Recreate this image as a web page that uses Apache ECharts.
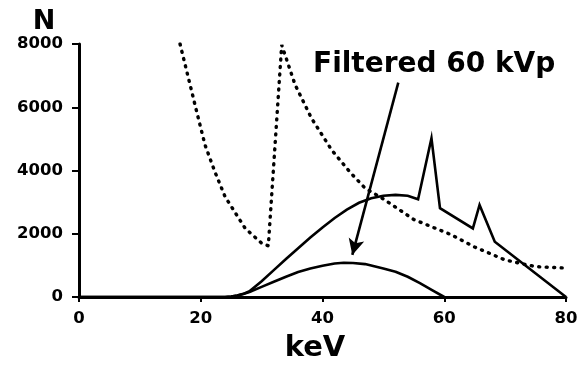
<!DOCTYPE html>
<html>
<head>
<meta charset="utf-8">
<script src="https://cdn.jsdelivr.net/npm/echarts@6/dist/echarts.min.js"></script>
<style>html,body{margin:0;padding:0;background:#fff;}#c{width:582px;height:365px;}</style>
</head>
<body>
<div id="c"></div>
<script>
// X ticks / Y ticks
const xTicks = [0, 20, 40, 60, 80];
const yTicks = [0, 2000, 4000, 6000, 8000];

// Unfiltered 80 kVp spectrum (dotted)
const keVD = [16.6, 19.05, 20.7, 22.3, 24, 27.3, 30, 31.1, 33.3, 35.5, 38.2, 41.5, 44.5, 47, 50, 55, 61, 65, 70, 75, 79.5];
const unfiltered = [8000, 6080, 4810, 3970, 3170, 2170, 1700, 1620, 7970, 6710, 5650, 4650, 3950, 3440, 3100, 2450, 1980, 1580, 1170, 960, 920];

// Tube spectrum 80 kVp (solid, with characteristic lines)
const keV1 = [0, 24, 25, 26, 27, 28, 30, 32, 34, 36, 38, 40, 42, 44, 46, 48, 50, 52, 54, 55.7, 57.9, 59.3, 64.7, 65.8, 68.3, 80];
const tube80 = [0, 0, 15, 45, 100, 180, 500, 850, 1200, 1540, 1880, 2200, 2500, 2760, 2980, 3120, 3200, 3230, 3200, 3090, 5020, 2810, 2170, 2910, 1750, 0];

// Filtered 60 kVp (solid)
const keV2 = [0, 24, 25, 26, 27, 28, 30, 32, 34, 36, 38, 40, 42, 43.5, 45, 47, 50, 52, 54, 56, 58, 60];
const filtered60 = [0, 0, 15, 45, 95, 160, 320, 480, 640, 790, 900, 990, 1060, 1085, 1075, 1040, 900, 800, 640, 440, 220, 0];

// Annotation
const annotText = 'Filtered 60 kVp';
const arrowFrom = [52.45, 6780];
const arrowTo = [44.9, 1330];

const zip = (xs, ys) => xs.map((x, i) => [x, ys[i]]);
const fam = 'DejaVu Sans';

const chart = echarts.init(document.getElementById('c'), null, {renderer: 'canvas'});
chart.setOption({
  animation: false,
  backgroundColor: '#fff',
  grid: {left: 79, right: 16, top: 44, bottom: 68, containLabel: false},
  xAxis: {
    type: 'value', min: 0, max: 80, interval: 20,
    axisLine: {show: true, lineStyle: {color: '#000', width: 3}},
    axisTick: {show: true, length: 5, lineStyle: {color: '#000', width: 2}},
    axisLabel: {color: '#000', fontFamily: fam, fontWeight: 'bold', fontSize: 16.5, margin: 13,
      formatter: v => xTicks.includes(v) ? String(v) : ''},
    splitLine: {show: false}
  },
  yAxis: {
    type: 'value', min: 0, max: 8000, interval: 2000,
    axisLine: {show: true, lineStyle: {color: '#000', width: 3}},
    axisTick: {show: true, length: 7, lineStyle: {color: '#000', width: 2}},
    axisLabel: {color: '#000', fontFamily: fam, fontWeight: 'bold', fontSize: 16.5, margin: 16,
      formatter: v => yTicks.includes(v) ? String(v) : ''},
    splitLine: {show: false}
  },
  series: [
    {
      type: 'line', data: zip(keVD, unfiltered), symbol: 'none',
      lineStyle: {color: '#000', width: 3.4, type: [1, 6.5], cap: 'round'}
    },
    {
      type: 'line', data: zip(keV1, tube80), symbol: 'none',
      lineStyle: {color: '#000', width: 2.6, join: 'miter'}
    },
    {
      type: 'line', data: zip(keV2, filtered60), symbol: 'none',
      lineStyle: {color: '#000', width: 2.6},
      markLine: {
        silent: true, symbol: ['none', 'arrow'], symbolSize: [12, 16], precision: 3,
        label: {show: false},
        lineStyle: {color: '#000', width: 2.6, type: 'solid'},
        data: [[{coord: arrowFrom}, {coord: arrowTo}]]
      }
    }
  ],
  graphic: [
    {type: 'text', x: 44, y: 22, style: {text: 'N', fill: '#000', font: 'bold 27px "DejaVu Sans"', align: 'center', verticalAlign: 'middle'}},
    {type: 'text', x: 315, y: 348, style: {text: 'keV', fill: '#000', font: 'bold 29px "DejaVu Sans"', align: 'center', verticalAlign: 'middle'}},
    {type: 'text', x: 313, y: 65, style: {text: annotText, fill: '#000', font: 'bold 28px "DejaVu Sans"', align: 'left', verticalAlign: 'middle'}}
  ]
});
</script>
</body>
</html>
